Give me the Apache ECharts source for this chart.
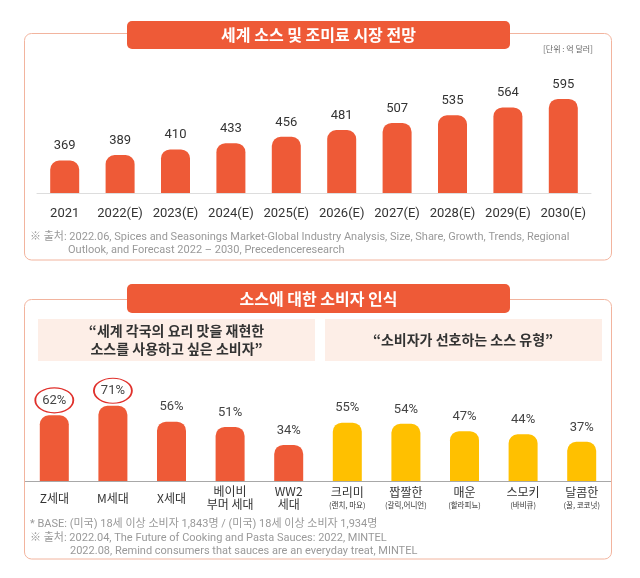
<!DOCTYPE html>
<html><head><meta charset="utf-8">
<script src="https://cdn.jsdelivr.net/npm/echarts@6/dist/echarts.min.js"></script>
<style>html,body{margin:0;padding:0;background:#fff}#c{width:640px;height:578px}</style>
</head><body><div id="c"></div>
<script>
const years = ['2021','2022(E)','2023(E)','2024(E)','2025(E)','2026(E)','2027(E)','2028(E)','2029(E)','2030(E)'];
const marketValues = [369,389,410,433,456,481,507,535,564,595];
const genCategories = ['Z세대','M세대','X세대','베이비\n부머 세대','WW2\n세대'];
const genValues = [62,71,56,51,34];
const sauceTypes = ['크리미','짭짤한','매운','스모키','달콤한'];
const sauceExamples = ['(랜치, 마요)','(갈릭,어니언)','(할라피뇨)','(바비큐)','(꿀, 코코넛)'];
const sauceValues = [55,54,47,44,37];
const circledGen = [0,1];

const ORANGE = '#EE5A37', YELLOW = '#FFC000', BORDER = '#F2B49E', PINK = '#FDEEE7';
const KR = '"Noto Sans CJK KR", "Noto Sans", sans-serif';
const NUM = 'Roboto, "Noto Sans CJK KR", sans-serif';

const chart = echarts.init(document.getElementById('c'), null, {renderer:'canvas'});

function barSeries(xi, yi, values, color, extra) {
  return Object.assign({
    type:'bar', xAxisIndex:xi, yAxisIndex:yi, data:values, barWidth:29,
    itemStyle:{color:color, borderRadius:[9,9,0,0]},
    label:{show:true, position:'top', distance:8, color:'#333', fontSize:13, fontFamily:NUM},
    silent:true
  }, extra||{});
}

const option = {
  animation:false,
  grid:[
    {left:37, right:49, top:84, bottom:385},
    {left:25, width:293, top:375, bottom:97},
    {left:318, width:293, top:375, bottom:97}
  ],
  xAxis:[
    {type:'category', gridIndex:0, data:years, axisTick:{show:false},
     axisLine:{lineStyle:{color:'#DDDDDD', width:1}},
     axisLabel:{color:'#333', fontSize:13, fontFamily:NUM, margin:14, interval:0}},
    {type:'category', gridIndex:1, data:genCategories, axisTick:{show:false},
     axisLine:{lineStyle:{color:'#A8A8A8', width:1}},
     axisLabel:{color:'#333', fontSize:12, fontFamily:KR, margin:17, interval:0, verticalAlign:'middle', lineHeight:13}},
    {type:'category', gridIndex:2, data:sauceTypes, axisTick:{show:false},
     axisLine:{lineStyle:{color:'#A8A8A8', width:1}},
     axisLabel:{interval:0, margin:17, verticalAlign:'middle',
       formatter:function(v, i){ return '{m|' + v + '}\n{s|' + sauceExamples[i] + '}'; },
       rich:{m:{color:'#333', fontSize:12, fontFamily:KR, lineHeight:14},
             s:{color:'#333', fontSize:7.5, fontFamily:KR, lineHeight:11}}}}
  ],
  yAxis:[
    {type:'value', gridIndex:0, min:250, max:650, show:false},
    {type:'value', gridIndex:1, min:0, max:100, show:false},
    {type:'value', gridIndex:2, min:0, max:100, show:false}
  ],
  series:[
    barSeries(0,0,marketValues,ORANGE),
    barSeries(1,1,genValues,ORANGE,{
      label:{show:true, position:'top', distance:8, color:'#444', fontSize:13, fontFamily:NUM, formatter:'{c}%'},
      markPoint:{
        silent:true, symbol:'circle', symbolSize:[38,25], symbolOffset:[0,-15],
        itemStyle:{color:'rgba(0,0,0,0)', borderColor:'#E0312C', borderWidth:1.5},
        label:{show:false},
        data:circledGen.map(i => ({coord:[i, genValues[i]]}))
      }
    }),
    barSeries(2,2,sauceValues,YELLOW,{
      label:{show:true, position:'top', distance:8, color:'#444', fontSize:13, fontFamily:NUM, formatter:'{c}%'}
    })
  ],
  graphic:[
    // top box
    {type:'rect', shape:{x:24.5, y:33.5, width:587, height:226.5, r:7}, style:{fill:'none', stroke:BORDER, lineWidth:1}, z:1},
    {type:'rect', shape:{x:127, y:21, width:383, height:28, r:5}, style:{fill:ORANGE}, z:2},
    {type:'text', x:318.5, y:35, style:{text:'세계 소스 및 조미료 시장 전망', fill:'#fff', font:'bold 16px '+KR, textAlign:'center', textVerticalAlign:'middle'}, z:3},
    {type:'text', x:568, y:49, style:{text:'[단위 : 억 달러]', fill:'#666', font:'8px '+KR, textAlign:'center', textVerticalAlign:'middle'}, z:3},
    {type:'text', x:30, y:237, style:{text:'※ 출처: 2022.06, Spices and Seasonings Market-Global Industry Analysis, Size, Share, Growth, Trends, Regional', fill:'#999', font:'11px '+NUM, textVerticalAlign:'middle'}, z:3},
    {type:'text', x:68, y:250, style:{text:'Outlook, and Forecast 2022 – 2030, Precedenceresearch', fill:'#999', font:'11px '+NUM, textVerticalAlign:'middle'}, z:3},
    // bottom box
    {type:'rect', shape:{x:24.5, y:299.5, width:587, height:259.5, r:7}, style:{fill:'none', stroke:BORDER, lineWidth:1}, z:1},
    {type:'rect', shape:{x:127, y:284, width:383, height:29, r:5}, style:{fill:ORANGE}, z:2},
    {type:'text', x:318.5, y:298.5, style:{text:'소스에 대한 소비자 인식', fill:'#fff', font:'bold 16px '+KR, textAlign:'center', textVerticalAlign:'middle'}, z:3},
    {type:'rect', shape:{x:38, y:319, width:277, height:42}, style:{fill:PINK}, z:1},
    {type:'rect', shape:{x:325, y:319, width:277, height:42}, style:{fill:PINK}, z:1},
    {type:'text', x:176.5, y:340, style:{text:'“세계 각국의 요리 맛을 재현한\n소스를 사용하고 싶은 소비자”', fill:'#333', font:'bold 14px '+KR, lineHeight:18, textAlign:'center', textVerticalAlign:'middle'}, z:3},
    {type:'text', x:463, y:340, style:{text:'“소비자가 선호하는 소스 유형”', fill:'#333', font:'bold 14px '+KR, textAlign:'center', textVerticalAlign:'middle'}, z:3},
    {type:'text', x:30, y:524, style:{text:'* BASE: (미국) 18세 이상 소비자 1,843명 / (미국) 18세 이상 소비자 1,934명', fill:'#999', font:'11px '+NUM, textVerticalAlign:'middle'}, z:3},
    {type:'text', x:30, y:538, style:{text:'※ 출처: 2022.04, The Future of Cooking and Pasta Sauces: 2022, MINTEL', fill:'#999', font:'11px '+NUM, textVerticalAlign:'middle'}, z:3},
    {type:'text', x:70, y:551, style:{text:'2022.08, Remind consumers that sauces are an everyday treat, MINTEL', fill:'#999', font:'11px '+NUM, textVerticalAlign:'middle'}, z:3}
  ]
};
chart.setOption(option);
</script></body></html>
